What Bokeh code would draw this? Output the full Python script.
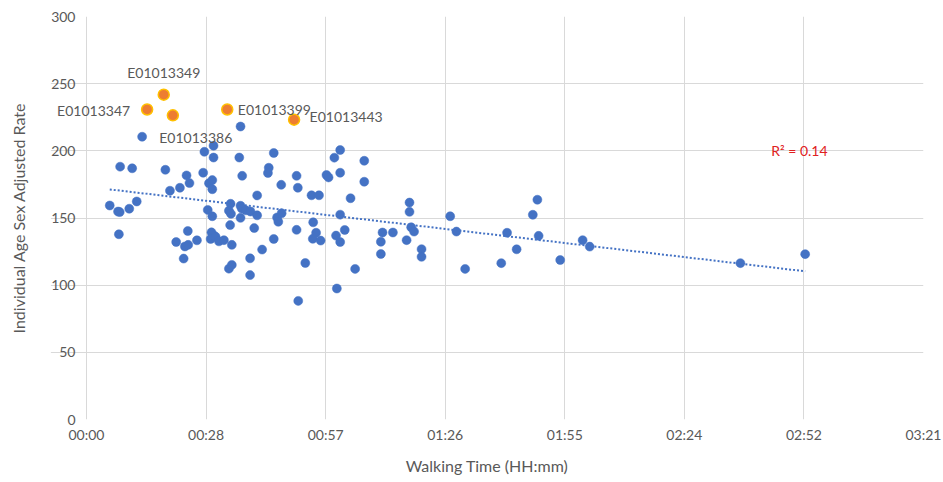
import numpy as np
from bokeh.plotting import figure
from bokeh.models import Range1d, FixedTicker, CustomJSTickFormatter
from bokeh.core.properties import value
from bokeh.embed import file_html
from bokeh.resources import INLINE

# Walking time in minutes, individual age-sex adjusted rate
walk_min = [5.6, 7.6, 8.0, 7.8, 8.1, 11.0, 10.3, 12.1, 13.4, 19.0, 20.1, 22.5, 24.1, 24.8,
            21.6, 23.4, 23.7, 24.5, 24.4, 26.6, 28.1, 28.4, 30.6, 30.6, 29.5, 30.3, 30.3,
            29.2, 30.3, 30.1, 30.7, 29.9, 31.1, 31.9, 33.1, 34.7, 34.3, 34.8, 34.6, 35.0,
            34.3, 35.0, 37.1, 37.1, 37.4, 38.4, 39.5, 39.4, 39.4, 36.8, 37.5, 37.1, 40.4,
            41.1, 42.3, 41.1, 45.1, 43.9, 43.7, 45.1, 45.9, 46.2, 47.0, 46.9, 50.6, 50.9,
            50.6, 52.7, 51.0, 54.2, 56.0, 54.6, 55.3, 54.5, 56.4, 59.7, 61.1, 61.1, 57.8,
            58.3, 63.6, 61.1, 60.1, 61.1, 62.2, 60.3, 64.7, 66.9, 66.9, 71.3, 73.8, 70.9,
            70.9, 77.8, 77.8, 78.2, 78.9, 77.1, 80.7, 80.7, 87.6, 89.1, 91.2, 99.9, 101.3,
            103.6, 107.5, 108.6, 108.9, 114.1, 119.5, 121.2, 157.5, 173.1]
rate = [159.3, 154.8, 154.4, 137.9, 188.2, 187.0, 156.9, 162.3, 210.5, 185.9, 170.3, 172.5,
        181.7, 176.0, 132.1, 119.8, 128.8, 130.0, 140.3, 133.4, 183.7, 199.3, 203.8, 195.0,
        175.9, 178.2, 171.4, 156.0, 151.3, 139.3, 136.9, 134.4, 136.0, 132.6, 133.5, 160.6,
        155.4, 153.1, 144.7, 130.0, 112.3, 115.1, 159.1, 150.1, 157.0, 155.7, 154.8, 120.0,
        107.5, 195.0, 181.4, 218.1, 142.5, 166.8, 126.5, 152.0, 198.4, 187.4, 183.5, 134.4,
        150.4, 147.2, 153.5, 174.7, 181.4, 172.5, 141.2, 116.5, 88.3, 166.9, 166.9, 146.8,
        139.0, 134.5, 133.2, 194.9, 200.6, 183.7, 182.0, 180.2, 164.7, 152.5, 136.9, 132.1,
        141.1, 97.5, 112.1, 192.6, 177.0, 139.2, 139.2, 132.3, 123.2, 161.5, 154.6, 143.1,
        139.9, 133.5, 126.8, 121.1, 151.3, 139.9, 112.1, 116.4, 139.0, 126.7, 152.4, 163.6,
        136.7, 118.7, 133.5, 128.7, 116.4, 123.1]

# Highlighted outliers
hl_names = ["E01013347", "E01013349", "E01013386", "E01013399", "E01013443"]
hl_min = [14.6, 18.6, 20.8, 33.9, 50.0]
hl_rate = [230.8, 241.8, 226.4, 230.8, 223.2]

r2_text = "R\u00b2 = 0.14"
x_ticks = [0, 28.8, 57.6, 86.4, 115.2, 144.0, 172.8, 201.6]
y_ticks = [0, 50, 100, 150, 200, 250, 300]

FONT = "Lato"
GREY = "#595959"

# The frame is widened 36 px to the left of 00:00 so the left-most data label is not clipped;
# that strip is masked white and the y tick labels are drawn into it.
PAD_PX = 36
FRAME_LEFT = 50
PLOT_W = 837  # px between 00:00 and 03:21
x_end = x_ticks[-1]
x_start = -PAD_PX * x_end / PLOT_W

p = figure(width=943, height=482, output_backend="svg", toolbar_location=None,
           x_range=Range1d(x_start, x_end), y_range=Range1d(0, 300),
           min_border_left=FRAME_LEFT, min_border_right=20, min_border_top=16,
           min_border_bottom=63)
p.outline_line_color = None
p.background_fill_color = "white"
p.border_fill_color = "white"

for ax in (p.xaxis[0], p.yaxis[0]):
    ax.axis_line_color = None
    ax.major_tick_line_color = None
    ax.minor_tick_line_color = None
    ax.major_tick_out = 0
    ax.minor_tick_out = 0
    ax.major_label_text_font = FONT
    ax.major_label_text_font_size = "14px"
    ax.major_label_text_color = GREY
    ax.axis_label_text_font = FONT
    ax.axis_label_text_font_size = "16px"
    ax.axis_label_text_font_style = "normal"
    ax.axis_label_text_color = GREY

p.xaxis.ticker = FixedTicker(ticks=x_ticks)
p.yaxis.ticker = FixedTicker(ticks=y_ticks)
p.xaxis.formatter = CustomJSTickFormatter(code="""
const m = Math.floor(tick + 1e-6);
const h = Math.floor(m / 60);
const mm = m % 60;
return String(h).padStart(2, '0') + ':' + String(mm).padStart(2, '0');
""")
p.xaxis.axis_label = "Walking Time (HH:mm)"
p.yaxis.axis_label = "Individual Age Sex Adjusted Rate"
p.xaxis.major_label_standoff = 6
p.yaxis.major_label_standoff = -(PAD_PX - 11)
p.xaxis.axis_label_standoff = 10
p.yaxis.axis_label_standoff = 20

p.xgrid.ticker = FixedTicker(ticks=x_ticks)
p.ygrid.ticker = FixedTicker(ticks=y_ticks)
for g in (p.xgrid[0], p.ygrid[0]):
    g.grid_line_color = "#d9d9d9"
    g.grid_line_width = 1

# white mask over the padding strip (hides horizontal grid lines there)
p.quad(left=[x_start - 5], right=[x_start * 0.985], bottom=[-10], top=[310],
       fill_color="white", line_color=None)

# trendline (linear least squares over all points)
all_x = np.array(walk_min + hl_min)
all_y = np.array(rate + hl_rate)
slope, intercept = np.polyfit(all_x, all_y, 1)
tx = np.array([all_x.min(), all_x.max()])
p.line(tx, slope * tx + intercept, line_color="#4472C4", line_width=2, line_dash="2 2")

p.scatter(walk_min, rate, size=9, fill_color="#4472C4", line_color="#4472C4", line_width=0.5)
p.scatter(hl_min, hl_rate, size=11, fill_color="#ED7D31", line_color="#FFC000", line_width=1.5)

# data labels (align, x_offset, y_offset[screen px, down positive])
placements = [("right", -17, 1), ("center", 0, -22), ("left", -13.6, 22),
              ("left", 10.6, 0), ("left", 15.5, -3)]
for name, x, y, (al, xo, yo) in zip(hl_names, hl_min, hl_rate, placements):
    p.text([x], [y], text=[name], text_align=al, text_baseline="middle",
           x_offset=xo, y_offset=yo, text_font=value(FONT), text_font_size="14px",
           text_color=GREY)

p.text([171.7], [200.6], text=[r2_text], text_align="center", text_baseline="middle",
       text_font=value(FONT), text_font_size="14px", text_color="#E02020")

open("out.html", "w").write(file_html(p, INLINE))
